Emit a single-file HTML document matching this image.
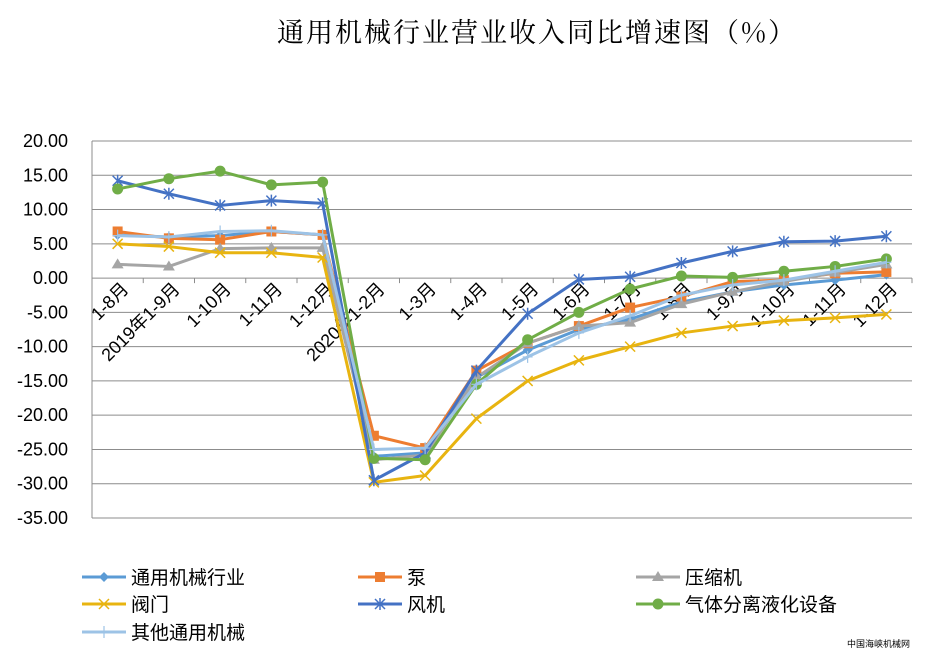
<!DOCTYPE html>
<html><head><meta charset="utf-8">
<style>
body{margin:0;background:#fff;}
svg{display:block;font-family:"Liberation Sans","Noto Sans CJK SC",sans-serif;}
</style></head>
<body>
<svg id="c" width="935" height="651" viewBox="0 0 935 651">
<text x="537" y="42" text-anchor="middle" font-size="27" fill="#000" letter-spacing="2" font-family="'Noto Serif CJK SC','Liberation Serif',serif">通用机械行业营业收入同比增速图（%）</text>
<g id="grid"></g>
<g id="ylab"></g>
<g id="xlab"></g>
<g id="series"></g>
<g id="legend"></g>
<text x="910" y="647" text-anchor="end" font-size="9" fill="#000">中国海峡机械网</text>
</svg>
<script>
const categories=["1-8月","2019年1-9月","1-10月","1-11月","1-12月","2020年1-2月","1-3月","1-4月","1-5月","1-6月","1-7月","1-8月","1-9月","1-10月","1-11月","1-12月"];
const yTicks=[20,15,10,5,0,-5,-10,-15,-20,-25,-30,-35];
const seriesNames=["通用机械行业","泵","压缩机","阀门","风机","气体分离液化设备","其他通用机械"];
const sGeneral=[6.3,6.0,6.2,6.8,6.3,-26,-25.5,-14.5,-10.5,-7.5,-6,-3.5,-2,-1,-0.3,0.5];
const sPump=[6.8,5.8,5.6,6.8,6.3,-23,-24.8,-13.5,-9.5,-7,-4.3,-2.7,-0.5,-0.3,0.7,0.9];
const sCompressor=[2.0,1.7,4.3,4.4,4.4,-26.5,-25.8,-14.5,-9.5,-7,-6.5,-3.8,-2,-0.5,0.8,2.0];
const sValve=[5.0,4.6,3.7,3.7,3.0,-29.8,-28.8,-20.5,-15,-12,-10,-8,-7,-6.2,-5.8,-5.3];
const sFan=[14.2,12.3,10.6,11.3,10.9,-29.5,-25.5,-13.5,-5.2,-0.2,0.2,2.2,3.9,5.3,5.4,6.1];
const sGas=[13.0,14.5,15.6,13.6,14.0,-26.3,-26.5,-15.5,-9,-5,-1.6,0.3,0.1,1.0,1.7,2.8];
const sOther=[6.2,6.0,6.8,6.9,6.3,-25,-24.8,-15.5,-11.5,-8,-5.5,-2.5,-1,-0.3,1.0,2.3];

const NS="http://www.w3.org/2000/svg";
const L=92,R=912,T=141,B=518,ymax=20,ymin=-35;
const step=(R-L)/categories.length;
const X=i=>L+step*(i+0.5);
const Y=v=>T+(ymax-v)/(ymax-ymin)*(B-T);
function mk(tag,attrs,parent){const e=document.createElementNS(NS,tag);for(const k in attrs)e.setAttribute(k,attrs[k]);parent.appendChild(e);return e;}
const grid=document.getElementById('grid'),ylab=document.getElementById('ylab'),xlab=document.getElementById('xlab');
yTicks.forEach(v=>{
  const l=mk('line',{x1:L,x2:R,y1:Y(v),y2:Y(v),stroke:'#8c8c8c','stroke-width':1},grid);
  
  
  const t=mk('text',{x:68,y:Y(v)+6,'text-anchor':'end','font-size':18,fill:'#000'},ylab);
  t.textContent=v.toFixed(2);
  
  
});
const ax=mk('line',{x1:L,x2:L,y1:T,y2:B,stroke:'#8c8c8c'},grid);


for(let i=0;i<=categories.length;i++){
  const tk=mk('line',{x1:L+step*i,x2:L+step*i,y1:Y(0),y2:Y(0)+5,stroke:'#8c8c8c'},grid);
  
  
}
categories.forEach((c,i)=>{
  const x=X(i)+12,y=Y(0)+12;
  const t=mk('text',{x:x,y:y,'text-anchor':'end','font-size':18,fill:'#000',transform:`rotate(-45 ${x} ${y})`},xlab);
  t.textContent=c;
  
  
});
const colors=["#5B9BD5","#ED7D31","#A5A5A5","#E8B410","#4472C4","#70AD47","#9DC3E6"];
const markers=["diamond","square","triangle","x","star","circle","plus"];
const data=[sGeneral,sPump,sCompressor,sValve,sFan,sGas,sOther];
const keys=["general","pump","compressor","valve","fan","gas","other"];
function marker(type,x,y,col,g){
  let e;
  if(type==="diamond")e=mk('path',{d:`M${x} ${y-5}L${x+5} ${y}L${x} ${y+5}L${x-5} ${y}Z`,fill:col},g);
  else if(type==="square")e=mk('rect',{x:x-5,y:y-5,width:10,height:10,fill:col},g);
  else if(type==="triangle")e=mk('path',{d:`M${x} ${y-6}L${x+6} ${y+4}L${x-6} ${y+4}Z`,fill:col},g);
  else if(type==="circle")e=mk('circle',{cx:x,cy:y,r:5.5,fill:col},g);
  else if(type==="x")e=mk('path',{d:`M${x-5} ${y-5}L${x+5} ${y+5}M${x-5} ${y+5}L${x+5} ${y-5}`,stroke:col,'stroke-width':1.5,fill:'none'},g);
  else if(type==="star")e=mk('path',{d:`M${x-5} ${y-5}L${x+5} ${y+5}M${x-5} ${y+5}L${x+5} ${y-5}M${x} ${y-6}L${x} ${y+6}`,stroke:col,'stroke-width':1.5,fill:'none'},g);
  else e=mk('path',{d:`M${x-5} ${y}L${x+5} ${y}M${x} ${y-6}L${x} ${y+6}`,stroke:col,'stroke-width':1.2,fill:'none'},g);
  return e;
}
const sg=document.getElementById('series');
data.forEach((arr,s)=>{
  const g=mk('g',{},sg);
  
  
  const p=mk('polyline',{points:arr.map((v,i)=>X(i)+','+Y(v)).join(' '),fill:'none',stroke:colors[s],'stroke-width':3,'stroke-linejoin':'round'},g);
  
  
  arr.forEach((v,i)=>{
    const m=marker(markers[s],X(i),Y(v),colors[s],g);
    
    
  });
});
const lg=document.getElementById('legend');
const lx=[82,358,636],ly=[577,604,632];
seriesNames.forEach((n,s)=>{
  const x=lx[s%3],y=ly[Math.floor(s/3)];
  const g=mk('g',{},lg);
  
  
  mk('line',{x1:x,x2:x+44,y1:y,y2:y,stroke:colors[s],'stroke-width':3},g);
  marker(markers[s],x+22,y,colors[s],g);
  const t=mk('text',{x:x+49,y:y+7,'font-size':19,fill:'#000'},g);
  t.textContent=n;
});
</script>
</body></html>
